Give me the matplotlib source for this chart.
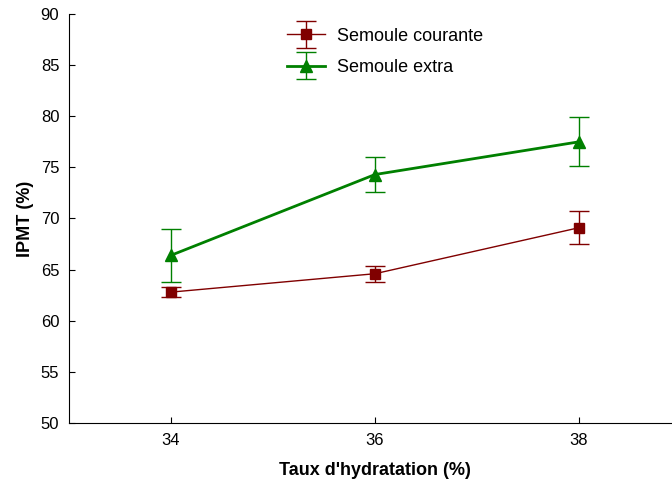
import matplotlib
matplotlib.use("Agg")
import matplotlib.pyplot as plt
from matplotlib.legend_handler import HandlerErrorbar
from matplotlib.container import ErrorbarContainer

plt.rcParams['font.family'] = ['Liberation Sans', 'DejaVu Sans']

hydratation = [34, 36, 38]

courante = [62.8, 64.6, 69.1]
courante_err_bas = [0.5, 0.8, 1.6]
courante_err_haut = [0.5, 0.8, 1.6]

extra = [66.4, 74.3, 77.5]
extra_err_bas = [2.6, 1.7, 2.4]
extra_err_haut = [2.6, 1.7, 2.4]

fig = plt.figure(figsize=(6.72, 4.84), dpi=100)
ax = fig.add_axes([69 / 672, 1 - 423 / 484, 612 / 672, 409 / 484])

ax.errorbar(hydratation, courante, yerr=[courante_err_bas, courante_err_haut],
            color='#800000', marker='s', markersize=6.5, linewidth=1,
            elinewidth=1, capsize=7.5, capthick=1, label='Semoule courante')
ax.errorbar(hydratation, extra, yerr=[extra_err_bas, extra_err_haut],
            color='#008000', marker='^', markersize=9, linewidth=2,
            elinewidth=1, capsize=7.5, capthick=1, label='Semoule extra')

ax.set_xlim(33, 39)
ax.set_ylim(50, 90)
ax.set_xticks(hydratation)
ax.set_yticks(range(50, 91, 5))
ax.tick_params(direction='in', length=4, labelsize=12, pad=7)
ax.spines['top'].set_visible(False)
ax.spines['right'].set_visible(False)

ax.set_xlabel("Taux d'hydratation (%)", fontsize=13, fontweight='bold', labelpad=10)
ax.set_ylabel("IPMT (%)", fontsize=13, fontweight='bold', labelpad=5)

ax.legend(loc='upper left', bbox_to_anchor=(0.33, 1.006), frameon=False,
          fontsize=13, handlelength=2.1, handletextpad=0.66, labelspacing=0.8,
          handler_map={ErrorbarContainer: HandlerErrorbar(yerr_size=0.75)})

fig.savefig("out.png", dpi=100)
